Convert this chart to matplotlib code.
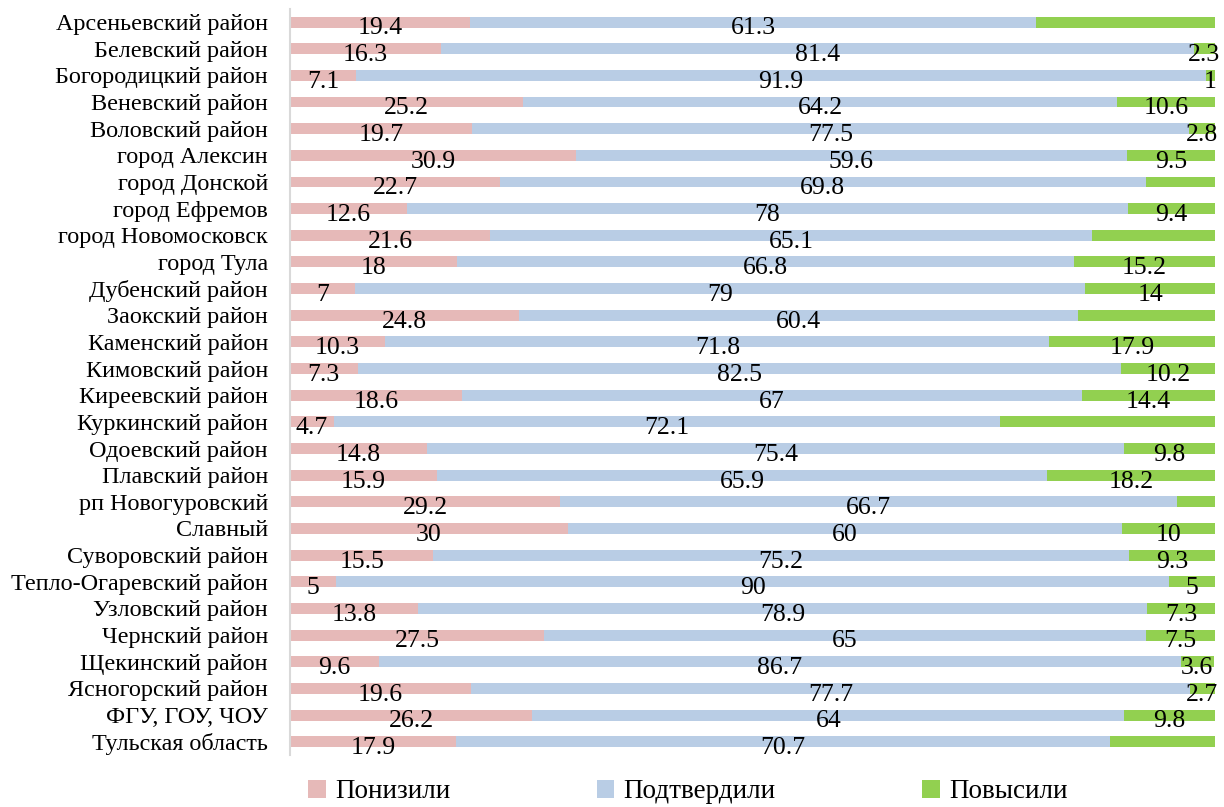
import matplotlib.pyplot as plt
import numpy as np

plt.rcParams['font.family'] = ['Liberation Serif', 'DejaVu Serif']

regions = [
    "Арсеньевский район", "Белевский район", "Богородицкий район", "Веневский район",
    "Воловский район", "город Алексин", "город Донской", "город Ефремов",
    "город Новомосковск", "город Тула", "Дубенский район", "Заокский район",
    "Каменский район", "Кимовский район", "Киреевский район", "Куркинский район",
    "Одоевский район", "Плавский район", "рп Новогуровский", "Славный",
    "Суворовский район", "Тепло-Огаревский район", "Узловский район", "Чернский район",
    "Щекинский район", "Ясногорский район", "ФГУ, ГОУ, ЧОУ", "Тульская область",
]

lowered = [19.4, 16.3, 7.1, 25.2, 19.7, 30.9, 22.7, 12.6, 21.6, 18, 7, 24.8, 10.3, 7.3,
           18.6, 4.7, 14.8, 15.9, 29.2, 30, 15.5, 5, 13.8, 27.5, 9.6, 19.6, 26.2, 17.9]
confirmed = [61.3, 81.4, 91.9, 64.2, 77.5, 59.6, 69.8, 78, 65.1, 66.8, 79, 60.4, 71.8, 82.5,
             67, 72.1, 75.4, 65.9, 66.7, 60, 75.2, 90, 78.9, 65, 86.7, 77.7, 64, 70.7]
raised = [19.3, 2.3, 1, 10.6, 2.8, 9.5, 7.5, 9.4, 13.3, 15.2, 14, 14.8, 17.9, 10.2,
          14.4, 23.2, 9.8, 18.2, 4.1, 10, 9.3, 5, 7.3, 7.5, 3.6, 2.7, 9.8, 11.4]
# labels that are shown in the original for the third series (None = not shown)
raised_labels = [None, "2.3", "1", "10.6", "2.8", "9.5", None, "9.4", None, "15.2", "14", None,
                 "17.9", "10.2", "14.4", None, "9.8", "18.2", None, "10", "9.3", "5", "7.3",
                 "7.5", "3.6", "2.7", "9.8", None]

series_names = ["Понизили", "Подтвердили", "Повысили"]
colors = ["#E6B9B8", "#B9CDE5", "#92D050"]

fig = plt.figure(figsize=(12.24, 8.07), dpi=100)
ax = fig.add_axes([0.237, 0.0644, 0.7556, 0.9248])

y = np.arange(len(regions))
left = np.zeros(len(regions))
all_vals = [lowered, confirmed, raised]
for i, vals in enumerate(all_vals):
    vals = np.array(vals, dtype=float)
    ax.barh(y, vals, left=left, height=0.41, color=colors[i], label=series_names[i])
    for j, v in enumerate(vals):
        if i < 2:
            txt = f"{v:g}"
        else:
            txt = raised_labels[j]
        if txt:
            ax.text(left[j] + v / 2, y[j] + 0.24, txt, ha="center", va="center", fontsize=18.5)
    left += vals

ax.set_xlim(0, 100)
ax.set_ylim(len(regions) - 0.5, -0.5)
ax.set_yticks(y)
ax.set_yticklabels(regions, fontsize=17.4)
ax.tick_params(axis="y", length=0, pad=16)
ax.set_xticks([])
for s in ["top", "right", "bottom"]:
    ax.spines[s].set_visible(False)
ax.spines["left"].set_color("#D9D9D9")
ax.spines["left"].set_linewidth(1.5)

fig.legend(loc="lower center", bbox_to_anchor=(0.562, -0.027), ncol=3, frameon=False,
           fontsize=19.5, handlelength=0.65, handleheight=0.65, handletextpad=0.35,
           columnspacing=5.4)

fig.savefig("out.png", dpi=100)
